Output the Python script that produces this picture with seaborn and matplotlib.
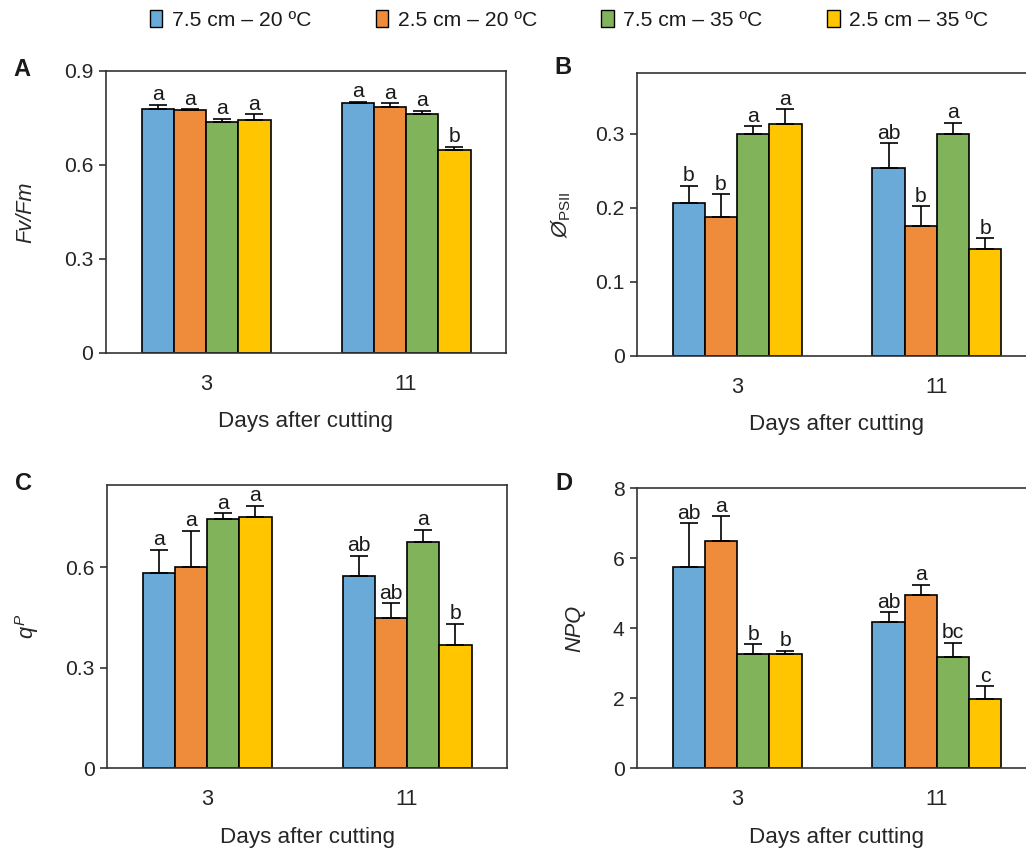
import numpy as np
import pandas as pd
import matplotlib
matplotlib.use("Agg")
import matplotlib.pyplot as plt
import seaborn as sns
from matplotlib.patches import Patch

# ---- data -------------------------------------------------------------
days = ["3", "11"]
treatments = ["7.5 cm – 20 ºC", "2.5 cm – 20 ºC", "7.5 cm – 35 ºC", "2.5 cm – 35 ºC"]
colors = ["#6aaad9", "#ee8c3c", "#80b35a", "#ffc600"]

# each row: one treatment, values for day 3 and day 11
fvfm_mean = [[0.779, 0.798], [0.774, 0.785], [0.737, 0.762], [0.743, 0.647]]
fvfm_err = [[0.014, 0.004], [0.004, 0.012], [0.011, 0.011], [0.019, 0.011]]
fvfm_sig = [["a", "a"], ["a", "a"], ["a", "a"], ["a", "b"]]

phipsii_mean = [[0.207, 0.254], [0.187, 0.175], [0.300, 0.300], [0.313, 0.144]]
phipsii_err = [[0.023, 0.033], [0.031, 0.027], [0.010, 0.015], [0.020, 0.015]]
phipsii_sig = [["b", "ab"], ["b", "b"], ["a", "a"], ["a", "b"]]

qp_mean = [[0.583, 0.572], [0.600, 0.447], [0.742, 0.675], [0.748, 0.367]]
qp_err = [[0.068, 0.061], [0.108, 0.045], [0.018, 0.037], [0.034, 0.063]]
qp_sig = [["a", "ab"], ["a", "ab"], ["a", "a"], ["a", "b"]]

npq_mean = [[5.75, 4.16], [6.50, 4.93], [3.25, 3.18], [3.25, 1.96]]
npq_err = [[1.24, 0.29], [0.69, 0.31], [0.28, 0.39], [0.10, 0.37]]
npq_sig = [["ab", "ab"], ["a", "a"], ["b", "bc"], ["b", "c"]]

fvfm_ticks = [0, 0.3, 0.6, 0.9]
fvfm_ticklabels = ["0", "0.3", "0.6", "0.9"]
phipsii_ticks = [0, 0.1, 0.2, 0.3]
phipsii_ticklabels = ["0", "0.1", "0.2", "0.3"]
qp_ticks = [0, 0.3, 0.6]
qp_ticklabels = ["0", "0.3", "0.6"]
npq_ticks = [0, 2, 4, 6, 8]
npq_ticklabels = ["0", "2", "4", "6", "8"]

# ---- style ------------------------------------------------------------
sns.set_style("ticks")
plt.rcParams["font.family"] = ["Liberation Sans", "DejaVu Sans"]
plt.rcParams["mathtext.fontset"] = "custom"
plt.rcParams["mathtext.rm"] = "Liberation Sans"
plt.rcParams["mathtext.it"] = "Liberation Sans:italic"
plt.rcParams["mathtext.bf"] = "Liberation Sans:bold"
plt.rcParams["text.color"] = "#1a1a1a"

FS = 15.2
SPINE = "#333333"

fig = plt.figure(figsize=(10.26, 8.48), dpi=100)
W, H = 1026.0, 848.0


def axes_px(left, top, right, bottom):
    return fig.add_axes([left / W, 1 - bottom / H, (right - left) / W, (bottom - top) / H])


def panel(ax, means, errs, sigs, ylim, ticks, ticklabels, ylabel, ylabel_x, ylabel_kw):
    df = pd.DataFrame(
        [
            {"day": d, "treatment": t, "value": means[i][j]}
            for i, t in enumerate(treatments)
            for j, d in enumerate(days)
        ]
    )
    sns.barplot(
        data=df, x="day", y="value", hue="treatment", order=days,
        hue_order=treatments, palette=colors, width=0.645,
        edgecolor="black", linewidth=1.2, errorbar=None, legend=False,
        saturation=1, ax=ax,
    )
    bar_groups = list(ax.containers)
    for i, cont in enumerate(bar_groups):
        for j, bar in enumerate(cont.patches):
            x = bar.get_x() + bar.get_width() / 2
            top = bar.get_height()
            ax.errorbar(
                x, top, yerr=[[0], [errs[i][j]]], fmt="none", ecolor="black",
                elinewidth=1.2, capsize=6.5, capthick=1.2, zorder=3,
            )
            ax.annotate(
                sigs[i][j], (x, top + errs[i][j]), xytext=(0, 0.5),
                textcoords="offset points", ha="center", va="bottom",
                fontsize=FS, color="#1a1a1a",
            )
    ax.set_xlim(-0.5, 1.5)
    ax.set_ylim(*ylim)
    ax.set_yticks(ticks)
    ax.set_yticklabels(ticklabels, fontsize=FS)
    ax.tick_params(axis="y", length=5, width=1.2, color=SPINE, pad=4)
    ax.tick_params(axis="x", length=0, pad=15, labelsize=FS + 0.5)
    ax.set_xlabel("Days after cutting", fontsize=FS + 0.9, labelpad=12)
    ax.set_ylabel(ylabel, fontsize=FS + 0.5, va="center", **ylabel_kw)
    ax.yaxis.set_label_coords(ylabel_x, 0.5)
    for s in ax.spines.values():
        s.set_visible(True)
        s.set_color(SPINE)
        s.set_linewidth(1.2)


axA = axes_px(106, 71, 506, 353)
panel(axA, fvfm_mean, fvfm_err, fvfm_sig, (0, 0.9), fvfm_ticks, fvfm_ticklabels,
      "Fv/Fm", -0.2, {"style": "italic"})

axB = axes_px(637, 73, 1037, 356)
panel(axB, phipsii_mean, phipsii_err, phipsii_sig, (0, 0.382), phipsii_ticks,
      phipsii_ticklabels, r"$\mathit{Ø}_{\mathrm{PSII}}$", -0.19, {})

axC = axes_px(107, 485, 507, 768)
panel(axC, qp_mean, qp_err, qp_sig, (0, 0.845), qp_ticks, qp_ticklabels,
      r"$q^{P}$", -0.2, {})

axD = axes_px(637, 488, 1037, 768)
panel(axD, npq_mean, npq_err, npq_sig, (0, 8), npq_ticks, npq_ticklabels,
      "NPQ", -0.155, {"style": "italic"})

# panel letters
for letter, (px, py) in zip("ABCD", [(22, 70), (563, 68), (23, 483), (564, 483)]):
    fig.text(px / W, 1 - py / H, letter, fontsize=17, fontweight="bold",
             ha="center", va="center")

# shared legend across the top
handles = [Patch(facecolor=c, edgecolor="black", linewidth=1.0) for c in colors]
fig.legend(
    handles, treatments, loc="center", bbox_to_anchor=(569 / W, 1 - 20 / H),
    ncol=4, frameon=False, fontsize=FS, handlelength=0.6, handleheight=0.85,
    handletextpad=0.45, columnspacing=3.05, borderaxespad=0,
)

fig.savefig("out.png", dpi=100)
